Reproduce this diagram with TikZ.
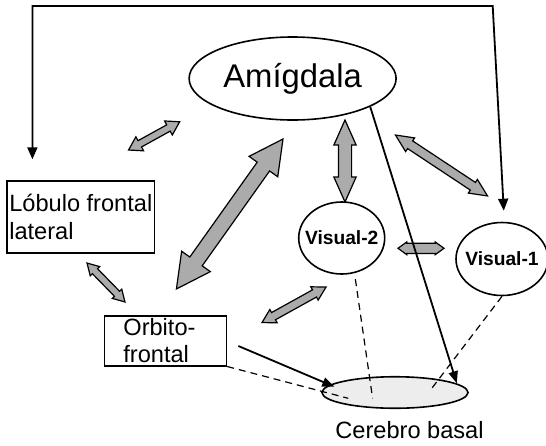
\documentclass[tikz,border=0pt]{standalone}
\usepackage{fontspec}
\setmainfont{Liberation Sans}
\usetikzlibrary{shapes.geometric,shapes.arrows,arrows.meta,calc}

\begin{document}
\begin{tikzpicture}[x=0.5pt,y=-0.5pt,
        area/.style={draw,ellipse,line width=0.8pt,inner sep=0pt},
        lobebox/.style={draw,rectangle,line width=0.8pt,align=left,
            font=\fontsize{11.8}{13.8}\selectfont},
        fat/.style={double arrow,draw,fill=black!33,line width=0.6pt,
            inner sep=0pt,text depth=0pt,minimum width=1pt},
        axon/.style={line width=0.9pt,-{Triangle[length=6pt,width=4.6pt]}},
        feedback/.style={line width=0.9pt,{Triangle[length=6pt,width=5pt]}-{Triangle[length=6pt,width=5pt]}},
        weak/.style={line width=0.6pt,dash pattern=on 3.5pt off 2.5pt}]

        \useasboundingbox (0,0) rectangle (546,445);
        \fill[white] (0,0) rectangle (546,445);

        % regions
        \node[area,minimum width=103.5pt,minimum height=41.5pt,
            font=\fontsize{16.4}{18}\selectfont] (amig) at (292.6,78.5) {Amígdala};
        \node[lobebox,inner xsep=1pt,inner ysep=0pt,minimum width=73pt,
            minimum height=36pt] (lob) at (80.8,217) {Lóbulo frontal\\lateral};
        \node[lobebox,text width=42pt,inner xsep=9.5pt,inner ysep=0pt,
            minimum height=25pt] (orb) at (165.4,340.7) {Orbito-\\frontal};
        \node[area,minimum width=43pt,minimum height=36pt,
            font=\bfseries\fontsize{9.6}{11}\selectfont] (vis2) at (341.7,238) {\makebox[0pt]{Visual-2}};
        \node[area,minimum width=46pt,minimum height=36.5pt,
            font=\bfseries\fontsize{9.6}{11}\selectfont] (vis1) at (502,259) {\makebox[0pt]{Visual-1}};
        \node[area,fill=black!7,minimum width=73pt,minimum height=15.75pt] (basal) at (395,392.5) {};
        \node[font=\fontsize{11.8}{13}\selectfont] (basaltxt) at (409.5,430) {Cerebro basal};

        % reciprocal links
        \node[fat,text height=3pt,minimum height=29.2pt,double arrow head extend=2.2pt,
            double arrow tip angle=64,rotate=28.9] (lobamig) at (154.1,135.9) {};
        \node[fat,text height=7pt,minimum height=92pt,double arrow head extend=5pt,
            double arrow tip angle=55,rotate=54.6] (orbamig) at (229.7,214) {};
        \node[fat,text height=6pt,minimum height=41pt,double arrow head extend=2.25pt,
            double arrow tip angle=48,rotate=90] (amigvis2) at (345,161) {};
        \node[fat,text height=4pt,minimum height=55.2pt,double arrow head extend=1.8pt,
            double arrow tip angle=50,rotate=-33.5] (amigvis1) at (441.5,165.5) {};
        \node[fat,text height=3pt,minimum height=27.2pt,double arrow head extend=1.5pt,
            double arrow tip angle=60,rotate=-45.7] (loborb) at (106,282.5) {};
        \node[fat,text height=3.5pt,minimum height=36.6pt,double arrow head extend=1.75pt,
            double arrow tip angle=60,rotate=29] (orbvis2) at (294,304.8) {};
        \node[fat,text height=4.5pt,minimum height=23pt,double arrow head extend=0.65pt,
            double arrow tip angle=72] (vis2vis1) at (421,248.3) {};

        % feedback loop along the top
        \coordinate (fbL) at (32.4,159.3);
        \coordinate (fbTL) at (32.4,6);
        \coordinate (fbTR) at (492.7,6);
        \coordinate (fbR) at (503.8,210.7);
        \draw[feedback] (fbL) -- (fbTL) -- (fbTR) -- (fbR);

        % projections to the basal forebrain
        \coordinate (orbout) at ($(orb.east)+(11.2,5.3)$);
        \coordinate (basalA) at ($(basal.center)+(61.8,-9.2)$);
        \coordinate (basalO) at ($(basal.center)+(-60.7,-5.8)$);
        \draw[axon] (amig.-20) -- (basalA);
        \draw[axon] (orbout) -- (basalO);

        \coordinate (basal1) at ($(basal.center)+(-46.8,5.8)$);
        \coordinate (basal2) at ($(basal.center)+(-22.4,5.8)$);
        \coordinate (basal3) at ($(basal.center)+(36.8,-4.2)$);
        \draw[weak] (orb.south east) -- (basal1);
        \draw[weak,shorten <=3pt] (vis2.-70) -- (basal2);
        \draw[weak] (vis1.south) -- (basal3);
    \end{tikzpicture}
\end{document}
